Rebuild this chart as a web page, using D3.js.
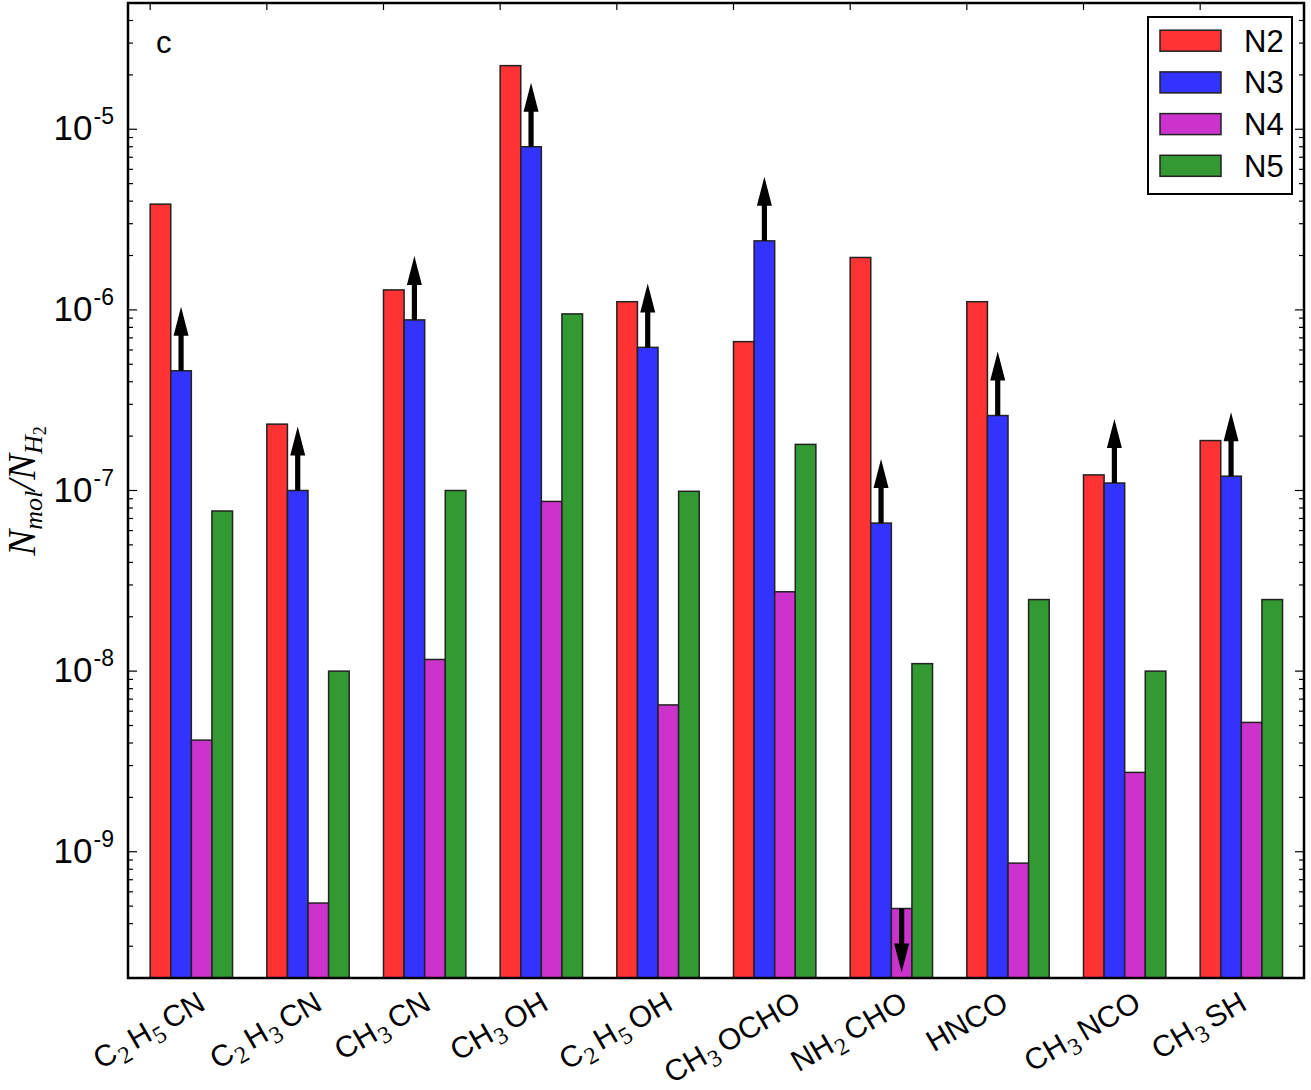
<!DOCTYPE html>
<html>
<head>
<meta charset="utf-8">
<script src="https://cdn.jsdelivr.net/npm/d3@7"></script>
<style>
  body { margin: 0; background: #fff; }
  text { font-family: "Liberation Sans", Arial, sans-serif; }
</style>
</head>
<body>
<svg id="chart" width="1311" height="1090"></svg>
<script>
// molecule names, "_d" marks a subscript digit
var molecules = ["C_2H_5CN", "C_2H_3CN", "CH_3CN", "CH_3OH", "C_2H_5OH", "CH_3OCHO", "NH_2CHO", "HNCO", "CH_3NCO", "CH_3SH"];
var seriesNames = ["N2", "N3", "N4", "N5"];
var colors = ["#ff3333", "#3333ff", "#cc33cc", "#339933"];

// abundances N_mol / N_H2
var n2 = [3.85e-6, 2.33e-7, 1.29e-6, 2.25e-5, 1.11e-6, 6.67e-7, 1.95e-6, 1.11e-6, 1.22e-7, 1.89e-7];
var n3 = [4.6e-7, 1.0e-7, 8.8e-7, 8.0e-6, 6.2e-7, 2.41e-6, 6.6e-8, 2.6e-7, 1.1e-7, 1.2e-7];
var n4 = [4.15e-9, 5.2e-10, 1.16e-8, 8.7e-8, 6.5e-9, 2.75e-8, 4.85e-10, 8.65e-10, 2.75e-9, 5.2e-9];
var n5 = [7.7e-8, 1.0e-8, 1.0e-7, 9.5e-7, 9.9e-8, 1.8e-7, 1.1e-8, 2.49e-8, 1.0e-8, 2.49e-8];
var values = [n2, n3, n4, n5];

// limits: series index, molecule index, direction
var limits = [
  {s: 1, m: 0, dir: "up"}, {s: 1, m: 1, dir: "up"}, {s: 1, m: 2, dir: "up"}, {s: 1, m: 3, dir: "up"},
  {s: 1, m: 4, dir: "up"}, {s: 1, m: 5, dir: "up"}, {s: 1, m: 6, dir: "up"}, {s: 1, m: 7, dir: "up"},
  {s: 1, m: 8, dir: "up"}, {s: 1, m: 9, dir: "up"},
  {s: 2, m: 6, dir: "down"}
];

var yTickExps = [-9, -8, -7, -6, -5];

var svg = d3.select("#chart");
var pLeft = 128, pRight = 1304, pTop = 3, pBottom = 978;

var xScale = d3.scaleLinear().domain([-0.19, 9.89]).range([pLeft, pRight]);
var yScale = d3.scaleLog().domain([2e-10, 5e-5]).range([pBottom, pTop]);
var bw = 0.1765; // bar width in group units

var plot = svg.append("g");

// bars
values.forEach(function(arr, s) {
  plot.selectAll(".bar" + s)
    .data(arr)
    .enter().append("rect")
    .attr("class", "bar" + s)
    .attr("x", function(d, i) { return xScale(i + s * bw); })
    .attr("width", xScale(bw) - xScale(0))
    .attr("y", function(d) { return yScale(d); })
    .attr("height", function(d) { return pBottom - yScale(d); })
    .attr("fill", colors[s])
    .attr("stroke", "#222")
    .attr("stroke-width", 1.5);
});

// limit arrows
var arrowLen = 64, headLen = 29, headW = 7.5, shaftW = 2.6;
limits.forEach(function(l) {
  var cx = xScale(l.m + (l.s + 0.5) * bw);
  var y0 = yScale(values[l.s][l.m]);
  var sgn = l.dir == "up" ? -1 : 1;
  var tip = y0 + sgn * arrowLen;
  var hb = tip - sgn * headLen;
  var pts = [[cx - shaftW, y0], [cx - shaftW, hb], [cx - headW, hb], [cx, tip],
             [cx + headW, hb], [cx + shaftW, hb], [cx + shaftW, y0]];
  plot.append("path")
    .attr("d", d3.line()(pts) + "Z")
    .attr("fill", "#000");
});

// frame
svg.append("rect")
  .attr("x", pLeft).attr("y", pTop)
  .attr("width", pRight - pLeft).attr("height", pBottom - pTop)
  .attr("fill", "none").attr("stroke", "#000").attr("stroke-width", 2.5);

// y ticks, both sides, inward
var minor = [];
yTickExps.concat([-10]).forEach(function(e) {
  for (var k = 2; k <= 9; k++) {
    var v = k * Math.pow(10, e);
    if (v >= 2e-10 && v <= 5e-5) minor.push(v);
  }
});
var ticks = svg.append("g").attr("stroke", "#000").attr("stroke-width", 1.2);
yTickExps.forEach(function(e) {
  var y = yScale(Math.pow(10, e));
  ticks.append("line").attr("x1", pLeft).attr("x2", pLeft + 9).attr("y1", y).attr("y2", y);
  ticks.append("line").attr("x1", pRight).attr("x2", pRight - 9).attr("y1", y).attr("y2", y);
});
minor.forEach(function(v) {
  var y = yScale(v);
  ticks.append("line").attr("x1", pLeft).attr("x2", pLeft + 5).attr("y1", y).attr("y2", y);
  ticks.append("line").attr("x1", pRight).attr("x2", pRight - 5).attr("y1", y).attr("y2", y);
});
// x ticks at group starts (top edge)
d3.range(molecules.length).forEach(function(i) {
  var x = xScale(i);
  ticks.append("line").attr("x1", x).attr("x2", x).attr("y1", pTop).attr("y2", pTop + 7);
});

// y tick labels
yTickExps.forEach(function(e) {
  var y = yScale(Math.pow(10, e));
  var t = svg.append("text")
    .attr("x", 114).attr("y", y + 11)
    .attr("text-anchor", "end")
    .style("font-size", "35px");
  t.append("tspan").text("10");
  t.append("tspan").attr("dy", -16).attr("dx", 1).style("font-size", "23px").text("-" + (-e));
});

// y axis label
var yl = svg.append("text")
  .attr("transform", "translate(35," + 491 + ") rotate(-90)")
  .attr("text-anchor", "middle")
  .style("font-family", "'Liberation Serif', 'DejaVu Serif', serif")
  .style("font-style", "italic")
  .style("font-size", "39px");
yl.append("tspan").text("N");
yl.append("tspan").attr("dy", 7).style("font-size", "26px").text("mol");
yl.append("tspan").attr("dy", -7).text("/N");
yl.append("tspan").attr("dy", 7).style("font-size", "26px").text("H");
yl.append("tspan").attr("dy", 4).style("font-size", "18px").style("font-style", "normal").text("2");

// category labels, rotated 30 degrees, centred on the group start
molecules.forEach(function(name, i) {
  var g = svg.append("g");
  var t = g.append("text")
    .attr("text-anchor", "middle")
    .attr("transform", "rotate(-30)")
    .style("font-size", "30px");
  var parts = name.split(/(_\d)/);
  var shifted = false;
  parts.forEach(function(p) {
    if (p == "") return;
    if (p[0] == "_") {
      t.append("tspan").attr("dy", 7).attr("dx", 1)
        .style("font-family", "'Liberation Serif', 'DejaVu Serif', serif")
        .style("font-size", "24px").text(p[1]);
      shifted = true;
    } else {
      var sp = t.append("tspan").text(p);
      if (shifted) { sp.attr("dy", -7).attr("dx", 5); shifted = false; }
    }
  });
  var b = g.node().getBoundingClientRect();
  var cx = b.left + b.width / 2;
  g.attr("transform", "translate(" + (xScale(i) - cx) + "," + (985 - b.top) + ")");
});

// panel letter
svg.append("text").attr("x", 156).attr("y", 53).style("font-size", "31px").text("c");

// legend
var lg = svg.append("g");
lg.append("rect").attr("x", 1148).attr("y", 17).attr("width", 144).attr("height", 177)
  .attr("fill", "#fff").attr("stroke", "#000").attr("stroke-width", 2);
seriesNames.forEach(function(s, k) {
  var cy = 40.7 + 41.7 * k;
  lg.append("rect").attr("x", 1160).attr("y", cy - 10.5).attr("width", 61).attr("height", 21)
    .attr("fill", colors[k]).attr("stroke", "#222").attr("stroke-width", 1.5);
  lg.append("text").attr("x", 1244).attr("y", cy + 11).style("font-size", "31px").text(s);
});
</script>
</body>
</html>
